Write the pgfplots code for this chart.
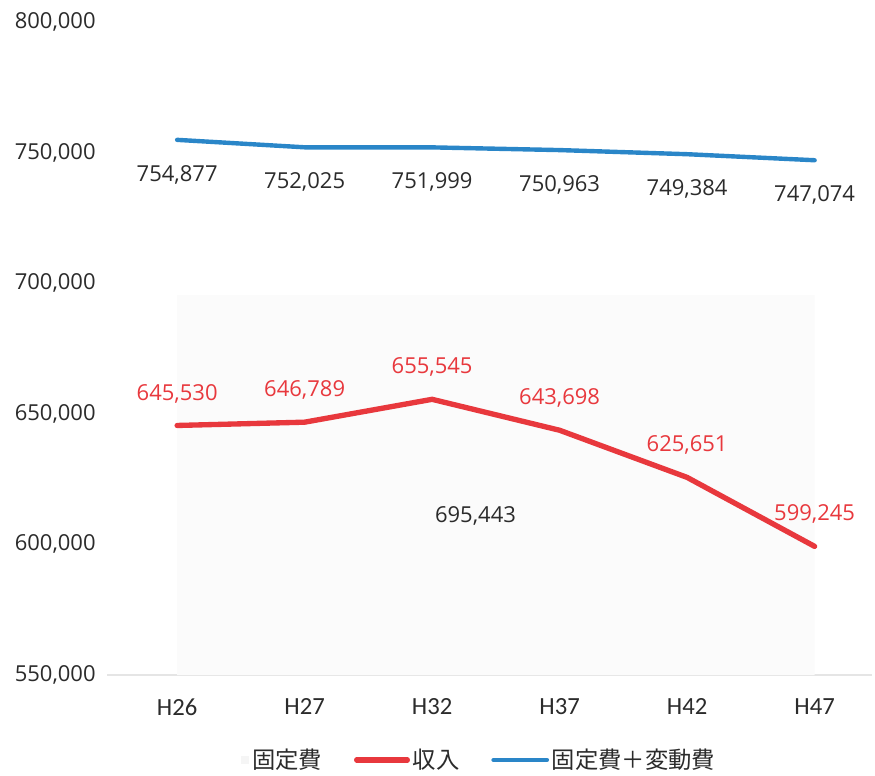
\documentclass[border=0pt]{standalone}
\usepackage{fontspec}
\setmainfont{Open Sans}
\newfontfamily\cjk{Noto Sans CJK JP}
\newfontfamily\calfont{Carlito}
\usepackage{pgfplots}
\usepackage{pgfplotstable}
\pgfplotsset{compat=1.18}

\definecolor{cred}{HTML}{E8383D}
\definecolor{cblue}{HTML}{2A86C8}
\definecolor{ctxt}{HTML}{2B2B2B}

\pgfplotstableread{
x y lab
0 754877 754,877
1 752025 752,025
2 751999 751,999
3 750963 750,963
4 749384 749,384
5 747074 747,074
}\totalcost

\pgfplotstableread{
x y lab
0 645530 645,530
1 646789 646,789
2 655545 655,545
3 643698 643,698
4 625651 625,651
5 599245 599,245
}\income

\pgfplotstableread{
x y
0 695443
1 695443
2 695443
3 695443
4 695443
5 695443
}\fixedcost

\begin{document}
\begin{tikzpicture}
\path[use as bounding box] (0,0) rectangle (656.25pt,581.25pt);
\begin{axis}[
  at={(80.25pt,75pt)}, anchor=south west,
  scale only axis, width=573.75pt, height=489.75pt,
  xmin=-0.55, xmax=5.45, ymin=550000, ymax=800000,
  ytick={550000,600000,650000,700000,750000,800000},
  xtick={0,1,2,3,4,5},
  xticklabels={H26,H27,H32,H37,H42,H47},
  axis x line*=bottom, axis y line*=left,
  y axis line style={draw=none},
  x axis line style={draw=black!10, line width=1.5pt},
  major tick length=0pt,
  scaled y ticks=false,
  /pgf/number format/.cd, fixed, 1000 sep={,}, assume math mode=true,
  /pgfplots/.cd,
  yticklabel style={font=\fontsize{16.5}{18}\selectfont, color=ctxt, anchor=east, xshift=-5pt},
  xticklabel style={font=\calfont\fontsize{18.5}{20}\selectfont, color=ctxt, anchor=north, yshift=-14pt},
  clip=false,
  legend style={at={(0.487,-0.13)}, anchor=center, draw=none, fill=none,
    legend columns=3, font=\cjk\fontsize{17.5}{20}\selectfont, text=ctxt,
    /tikz/every even column/.append style={column sep=22pt},
    legend cell align=left},
]
\addplot[fill=black!1.5, draw=none,
  legend image code/.code={\fill[black!4] (0pt,-3pt) rectangle (6pt,3pt);}]
  table[x=x,y=y] {\fixedcost} \closedcycle;
\addlegendentry{固定費}
\addplot[cred, line width=4pt, line cap=round,
  legend image code/.code={\draw[cred, line width=4pt, line cap=round] (0pt,0pt) -- (38pt,0pt);},
  nodes near coords, point meta=explicit symbolic,
  every node near coord/.append style={font=\fontsize{16.5}{18}\selectfont, color=cred, anchor=center, yshift=24pt}]
  table[x=x,y=y,meta=lab] {\income};
\addlegendentry{収入}
\addplot[cblue, line width=3.3pt, line cap=round,
  legend image code/.code={\draw[cblue, line width=3.3pt, line cap=round] (0pt,0pt) -- (40pt,0pt);},
  nodes near coords, point meta=explicit symbolic,
  every node near coord/.append style={font=\fontsize{16.5}{18}\selectfont, color=ctxt, anchor=center, yshift=-26pt}]
  table[x=x,y=y,meta=lab] {\totalcost};
\addlegendentry{固定費＋変動費}
\node[font=\fontsize{16.5}{18}\selectfont, color=ctxt] at (axis cs:2.34,610800) {695,443};
\end{axis}
\end{tikzpicture}
\end{document}
